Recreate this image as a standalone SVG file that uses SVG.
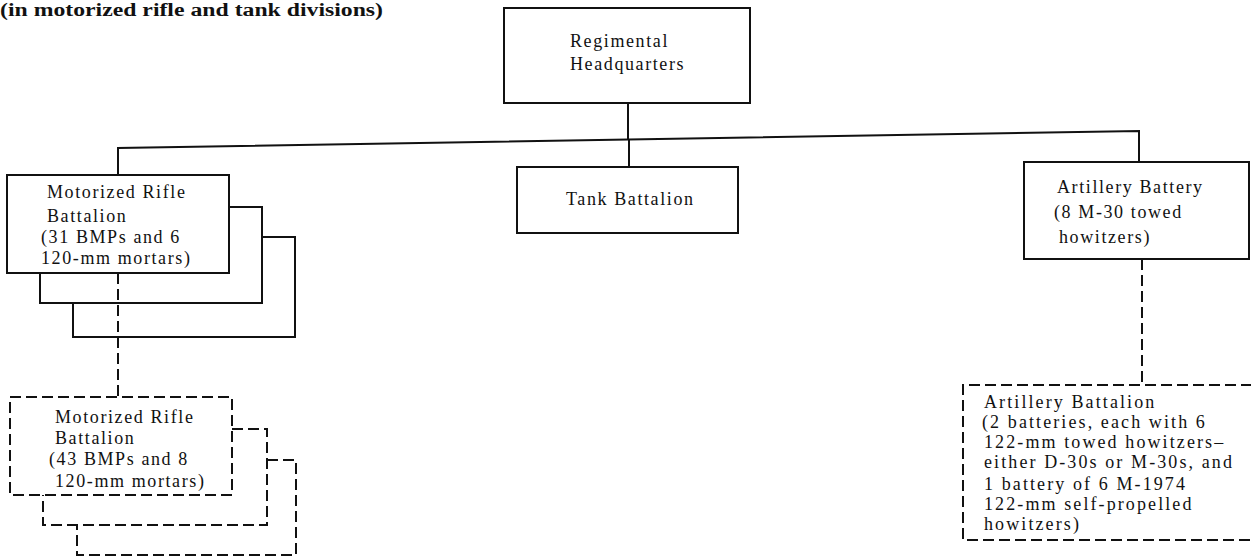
<svg xmlns="http://www.w3.org/2000/svg" width="1251" height="558" viewBox="0 0 1251 558">
<style>
.bx{fill:#fff;stroke:#111;stroke-width:2}
.ln{fill:none;stroke:#111;stroke-width:2}
.ds{fill:none;stroke:#111;stroke-width:2;stroke-dasharray:11 5}
.dsb{fill:#fff;stroke:#111;stroke-width:2;stroke-dasharray:11 5}
.t{font-family:"Liberation Serif","Times New Roman",serif;font-size:18px;fill:#111;letter-spacing:1.6px}
.s{font-family:"Liberation Serif","Times New Roman",serif;font-size:18px;fill:#111;letter-spacing:2.1px}
.title{font-family:"Liberation Serif","Times New Roman",serif;font-size:18px;font-weight:bold;fill:#111}
</style>
<rect width="1251" height="558" fill="#fff"/>
<text class="title" x="0" y="16" textLength="383" lengthAdjust="spacingAndGlyphs">(in motorized rifle and tank divisions)</text>
<g id="connectors">
<path class="ln" d="M628,103 L628,139.5"/>
<path class="ln" d="M118,175 L118,148 L1139,131 L1139,162"/>
<path class="ln" d="M629,139.5 L629,167"/>
<path class="ds" d="M118,273 L118,397"/>
<path class="ds" d="M1142,259 L1142,385"/>
</g>
<g id="hq">
<rect class="bx" x="504" y="8" width="246" height="95"/>
<text class="t" x="570" y="47">Regimental</text>
<text class="t" x="570" y="70">Headquarters</text>
</g>
<g id="tank">
<rect class="bx" x="517" y="167" width="221" height="66"/>
<text class="t" x="566" y="205">Tank Battalion</text>
</g>
<g id="mrb">
<path class="ln" d="M262,237 H295 V337 H73 V303"/>
<path class="ln" d="M229,207 H262 V303 H40 V273"/>
<rect class="bx" x="7" y="175" width="222" height="98"/>
<text class="t" x="47" y="198">Motorized Rifle</text>
<text class="t" x="47" y="222">Battalion</text>
<text class="t" x="41" y="243">(31 BMPs and 6</text>
<text class="t" x="41" y="264">120-mm mortars)</text>
</g>
<g id="mrb-bmp">
<path class="ds" d="M267,460 H296 V555 H77 V525"/>
<path class="ds" d="M232,429 H267 V525 H43 V495"/>
<rect class="dsb" x="10" y="397" width="222" height="98"/>
<text class="t" x="55" y="423">Motorized Rifle</text>
<text class="t" x="55" y="444">Battalion</text>
<text class="t" x="49" y="465">(43 BMPs and 8</text>
<text class="t" x="55" y="487">120-mm mortars)</text>
</g>
<g id="artbty">
<rect class="bx" x="1024" y="162" width="225" height="97"/>
<text class="t" x="1057" y="193">Artillery Battery</text>
<text class="t" x="1054" y="218">(8 M-30 towed</text>
<text class="t" x="1059" y="243">howitzers)</text>
</g>
<g id="artbn">
<path class="dsb" d="M1252,385 H963 V540 H1252"/>
<text class="s" x="984" y="408">Artillery Battalion</text>
<text class="s" x="982" y="428">(2 batteries, each with 6</text>
<text class="s" x="984" y="448">122-mm towed howitzers–</text>
<text class="s" x="984" y="468">either D-30s or M-30s, and</text>
<text class="s" x="984" y="490">1 battery of 6 M-1974</text>
<text class="s" x="984" y="510">122-mm self-propelled</text>
<text class="s" x="984" y="530">howitzers)</text>
</g>
</svg>
